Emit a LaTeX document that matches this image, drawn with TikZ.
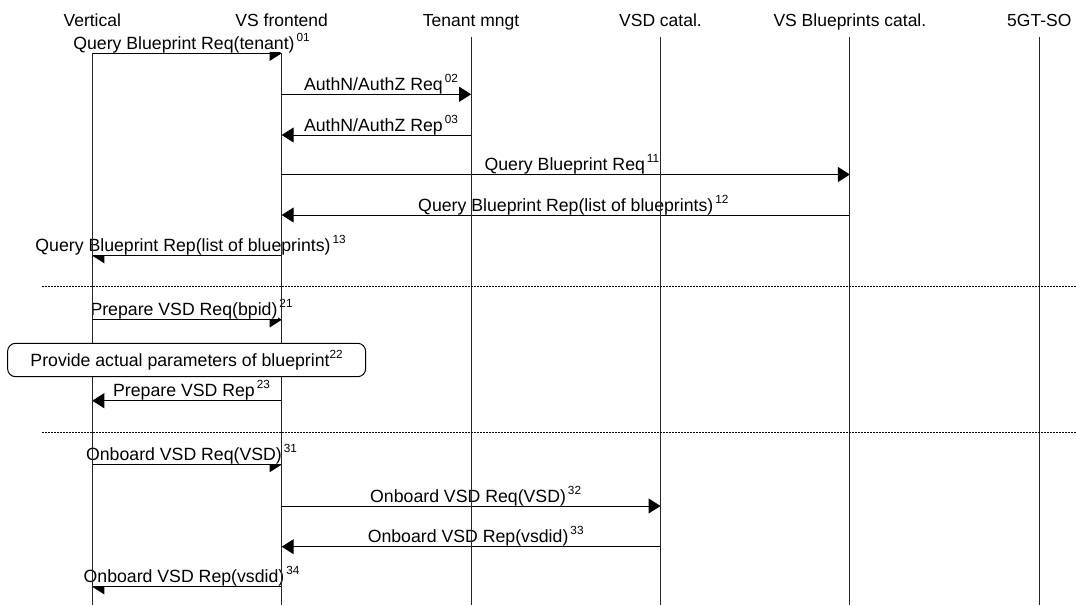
\documentclass[tikz,border=0pt]{standalone}
\usepackage{fontspec}
\setmainfont{Liberation Sans}
\usetikzlibrary{arrows.meta,calc}
\newcommand{\mysup}[1]{\rlap{\hspace{2pt}\raisebox{8pt}{\fontsize{11.8}{12}\selectfont #1}}}
\begin{document}
\begin{tikzpicture}[x=1pt,y=-1pt,
  hdr/.style={anchor=base, inner sep=0pt, font=\fontsize{17.5}{20}\selectfont},
  lbl/.style={anchor=south, fill=white, inner xsep=1pt, inner ysep=3pt, text depth=0pt, font=\fontsize{17.7}{20}\selectfont},
  msg/.style={line width=1pt, -{Triangle[length=12pt,width=15pt]}},
  life/.style={line width=1pt, draw=black!85},
  sep/.style={line width=1pt, dash pattern=on 1.5pt off 1.5pt},
  note/.style={draw, line width=1pt, fill=white, rounded corners=8pt, minimum width=358pt, minimum height=33.4pt, inner sep=0pt, font=\fontsize{17.7}{20}\selectfont}
]
\useasboundingbox (0,0) rectangle (1076,605);
% lifeline x positions
\coordinate (V) at (92.3,0);
\coordinate (F) at (281.7,0);
\coordinate (T) at (471.1,0);
\coordinate (C) at (660.5,0);
\coordinate (B) at (849.9,0);
\coordinate (S) at (1039.3,0);
% headers
\node[hdr] (hV) at (92.3,26.7) {Vertical};
\node[hdr] (hF) at (281.7,26.7) {VS frontend};
\node[hdr] (hT) at (471.1,26.7) {Tenant mngt};
\node[hdr] (hC) at (660.5,26.7) {VSD catal.};
\node[hdr] (hB) at (849.9,26.7) {VS Blueprints catal.};
\node[hdr] (hS) at (1039.3,26.7) {5GT-SO};
% rows
\coordinate (r01) at (0,53.3);
\coordinate (r02) at (0,94.3);
\coordinate (r03) at (0,135);
\coordinate (r11) at (0,174.5);
\coordinate (r12) at (0,215);
\coordinate (r13) at (0,255.7);
\coordinate (r21) at (0,319.8);
\coordinate (r23) at (0,400.7);
\coordinate (r31) at (0,464.6);
\coordinate (r32) at (0,506);
\coordinate (r33) at (0,546.7);
\coordinate (r34) at (0,586.8);
\coordinate (top) at (0,37);
\coordinate (bot) at (0,605);
% arrows
\draw[msg] (V|-r01) -- (F|-r01);
\draw[msg] (F|-r02) -- (T|-r02);
\draw[msg] (T|-r03) -- (F|-r03);
\draw[msg] (F|-r11) -- (B|-r11);
\draw[msg] (B|-r12) -- (F|-r12);
\draw[msg] (F|-r13) -- (V|-r13);
\draw[msg] (V|-r21) -- (F|-r21);
\draw[msg] (F|-r23) -- (V|-r23);
\draw[msg] (V|-r31) -- (F|-r31);
\draw[msg] (F|-r32) -- (C|-r32);
\draw[msg] (C|-r33) -- (F|-r33);
\draw[msg] (F|-r34) -- (V|-r34);
% labels
\node[lbl] (l01) at ($(V|-r01)!0.5!(F|-r01)+(-3,-0.7)$) {Query Blueprint Req(tenant)\mysup{01}};
\node[lbl] (l02) at ($(F|-r02)!0.5!(T|-r02)+(-3,-0.7)$) {AuthN/AuthZ Req\mysup{02}};
\node[lbl] (l03) at ($(F|-r03)!0.5!(T|-r03)+(-3,-0.7)$) {AuthN/AuthZ Rep\mysup{03}};
\node[lbl] (l11) at ($(F|-r11)!0.5!(B|-r11)+(-1,-0.7)$) {Query Blueprint Req\mysup{11}};
\node[lbl] (l12) at ($(F|-r12)!0.5!(B|-r12)+(0,-0.7)$) {Query Blueprint Rep(list of blueprints)\mysup{12}};
\node[lbl] (l13) at ($(V|-r13)!0.5!(F|-r13)+(-4,-0.7)$) {Query Blueprint Rep(list of blueprints)\mysup{13}};
\node[lbl] (l21) at ($(V|-r21)!0.5!(F|-r21)+(-3,-0.7)$) {Prepare VSD Req(bpid)\mysup{21}};
\node[lbl] (l23) at ($(V|-r23)!0.5!(F|-r23)+(-3,-0.7)$) {Prepare VSD Rep\mysup{23}};
\node[lbl] (l31) at ($(V|-r31)!0.5!(F|-r31)+(-3,-0.7)$) {Onboard VSD Req(VSD)\mysup{31}};
\node[lbl] (l32) at ($(F|-r32)!0.5!(C|-r32)+(-3,-0.7)$) {Onboard VSD Req(VSD)\mysup{32}};
\node[lbl] (l33) at ($(F|-r33)!0.5!(C|-r33)+(-3,-0.7)$) {Onboard VSD Rep(vsdid)\mysup{33}};
\node[lbl] (l34) at ($(V|-r34)!0.5!(F|-r34)+(-3,-0.7)$) {Onboard VSD Rep(vsdid)\mysup{34}};
% lifelines
\draw[life] (V|-r01) -- (V|-bot);
\draw[life] (F|-r01) -- (F|-bot);
\draw[life] (T|-top) -- (T|-bot);
\draw[life] (C|-top) -- (C|-bot);
\draw[life] (B|-top) -- (B|-bot);
\draw[life] (S|-top) -- (S|-bot);
% separators
\coordinate (s1a) at (42,286.7);
\coordinate (s1b) at (1076,286.7);
\coordinate (s2a) at (42,432.3);
\coordinate (s2b) at (1076,432.3);
\draw[sep] (s1a) -- (s1b);
\draw[sep] (s2a) -- (s2b);
% note box
\node[note] (n22) at (186.6,360) {Provide actual parameters of blueprint\raisebox{8pt}{\fontsize{11.8}{12}\selectfont 22}};
\end{tikzpicture}
\end{document}
